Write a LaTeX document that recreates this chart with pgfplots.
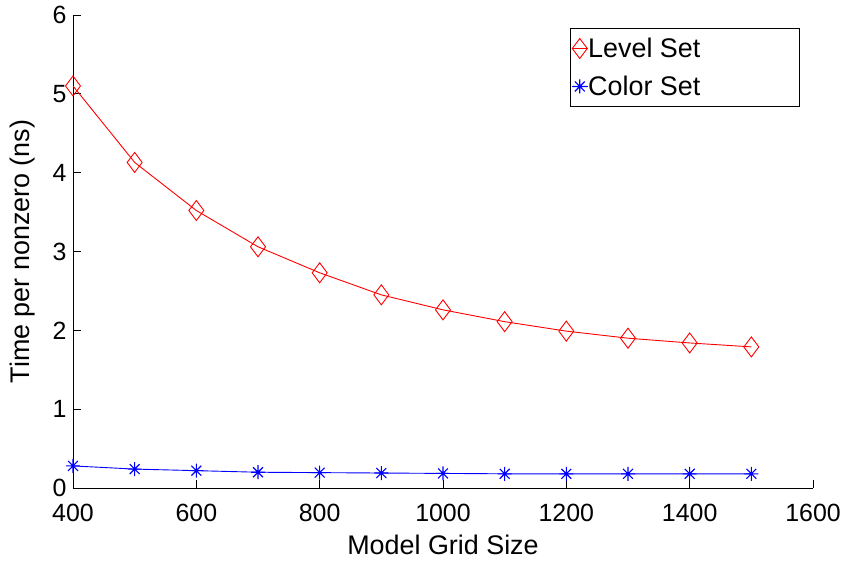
\documentclass[border=0pt]{standalone}
\usepackage{pgfplots}
\pgfplotsset{compat=1.18}
\usepackage{fontspec}
\setmainfont{Liberation Sans}
\pgfdeclareplotmark{mstar}{%
  \pgfpathmoveto{\pgfqpoint{-\pgfplotmarksize}{0pt}}\pgfpathlineto{\pgfqpoint{\pgfplotmarksize}{0pt}}%
  \pgfpathmoveto{\pgfqpoint{0pt}{-\pgfplotmarksize}}\pgfpathlineto{\pgfqpoint{0pt}{\pgfplotmarksize}}%
  \pgfpathmoveto{\pgfqpoint{-0.707\pgfplotmarksize}{-0.707\pgfplotmarksize}}\pgfpathlineto{\pgfqpoint{0.707\pgfplotmarksize}{0.707\pgfplotmarksize}}%
  \pgfpathmoveto{\pgfqpoint{-0.707\pgfplotmarksize}{0.707\pgfplotmarksize}}\pgfpathlineto{\pgfqpoint{0.707\pgfplotmarksize}{-0.707\pgfplotmarksize}}%
  \pgfusepathqstroke}
\begin{document}
\begin{tikzpicture}
\begin{axis}[name=ax,
  scale only axis, width=740bp, height=473bp,
  xmin=400, xmax=1600, ymin=0, ymax=6,
  xtick={400,600,...,1600}, ytick={0,1,...,6},
  axis x line=bottom, axis y line=left,
  axis line style={-, line width=0.9bp},
  tick style={line width=0.9bp, black},
  tick align=inside, major tick length=8bp,
  /pgf/number format/assume math mode=true,
  /pgf/number format/1000 sep={},
  ticklabel style={font=\fontsize{25}{29}\selectfont},
  xticklabel style={anchor=base, yshift=-33bp},
  yticklabel style={xshift=-3bp},
  label style={font=\fontsize{27}{31}\selectfont},
  xlabel={Model Grid Size}, ylabel={Time per nonzero (ns)},
  xlabel style={at={(axis description cs:0.5,0)}, anchor=base, yshift=-66bp},
  ylabel style={at={(axis description cs:-0.068,0.5)}, anchor=center},
  legend style={at={(0.982,0.9725)}, anchor=north east, draw=black, line width=0.9bp,
    font=\fontsize{27}{31}\selectfont, inner sep=1bp, row sep=0bp, column sep=0bp,
    nodes={inner sep=0bp, minimum height=38bp}},
  legend cell align=left,
  legend image code/.code={\draw[#1, mark repeat=2, mark phase=2] plot coordinates {(-8bp,0) (0bp,0) (8bp,0)};},
]
\addplot[red, line width=0.9bp, mark=diamond, mark size=10bp, mark options={line width=0.9bp}] coordinates {
(400,5.10) (500,4.13) (600,3.52) (700,3.06) (800,2.73) (900,2.45) (1000,2.26) (1100,2.11) (1200,1.99) (1300,1.90) (1400,1.84) (1500,1.79)};
\addlegendentry{\makebox[210bp][l]{Level Set}}
\addplot[blue, line width=0.9bp, mark=mstar, mark size=7bp, mark options={line width=1.1bp}] coordinates {
(400,0.28) (500,0.24) (600,0.22) (700,0.20) (800,0.195) (900,0.19) (1000,0.185) (1100,0.18) (1200,0.18) (1300,0.18) (1400,0.18) (1500,0.18)};
\addlegendentry{\makebox[210bp][l]{Color Set}}
\end{axis}
\pgfresetboundingbox
\path[use as bounding box] ([xshift=-73bp,yshift=-73bp]ax.south west) rectangle ([xshift=774bp,yshift=488bp]ax.south west);
\end{tikzpicture}
\end{document}
